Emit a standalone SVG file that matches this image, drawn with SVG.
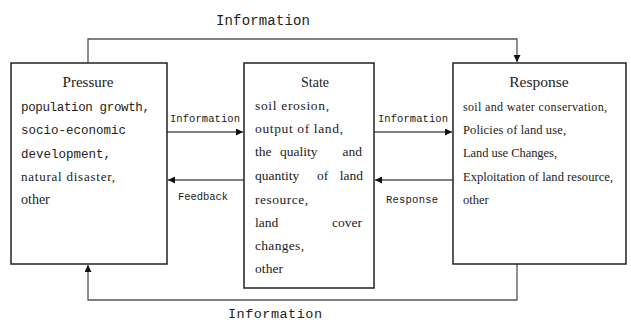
<svg xmlns="http://www.w3.org/2000/svg" width="631" height="323" viewBox="0 0 631 323">
<defs>
<marker id="ah" viewBox="0 0 10 10" refX="10" refY="5" markerWidth="7" markerHeight="7" orient="auto" markerUnits="userSpaceOnUse">
<path d="M0,0 L10,5 L0,10 z" fill="#111"/>
</marker>
<style>
.box{fill:#fff;stroke:#222;stroke-width:1.5}
.ln{fill:none;stroke:#555;stroke-width:1.3}
.mono{font-family:"Liberation Mono",monospace;fill:#222}
.ser{font-family:"Liberation Serif",serif;fill:#222}
</style>
</defs>
<rect width="631" height="323" fill="#fff"/>
<g id="connectors">
<path class="ln" d="M88,63 V39 H517 V62" marker-end="url(#ah)"/>
<path class="ln" d="M517,264 V300 H88 V265" marker-end="url(#ah)"/>
<line class="ln" x1="167" y1="132" x2="243" y2="132" marker-end="url(#ah)"/>
<line class="ln" x1="244" y1="180" x2="168" y2="180" marker-end="url(#ah)"/>
<line class="ln" x1="374" y1="132" x2="452" y2="132" marker-end="url(#ah)"/>
<line class="ln" x1="453" y1="180" x2="375" y2="180" marker-end="url(#ah)"/>
<text class="mono" x="216" y="25" font-size="14" textLength="94">Information</text>
<text class="mono" x="228" y="318" font-size="13.5" textLength="94">Information</text>
<text class="mono" x="170" y="122" font-size="10.5" textLength="70">Information</text>
<text class="mono" x="178" y="200" font-size="10.5" textLength="50">Feedback</text>
<text class="mono" x="378" y="122" font-size="10.5" textLength="70">Information</text>
<text class="mono" x="386" y="203" font-size="10.5" textLength="52">Response</text>
</g>
<g id="pressure">
<rect class="box" x="11" y="63" width="156" height="201"/>
<text class="ser" x="88" y="87" font-size="15" text-anchor="middle">Pressure</text>
<text class="mono" x="21" y="111" font-size="12.5" textLength="129">population growth,</text>
<text class="mono" x="21" y="134" font-size="12.5" textLength="105">socio-economic</text>
<text class="mono" x="21" y="158" font-size="12.5" textLength="90">development,</text>
<text class="ser" x="21" y="181" font-size="13" textLength="94">natural disaster,</text>
<text class="ser" x="21" y="204" font-size="14">other</text>
</g>
<g id="state">
<rect class="box" x="244" y="63" width="130" height="225"/>
<text class="ser" x="315" y="87" font-size="14" text-anchor="middle">State</text>
<text class="ser" x="255" y="110" font-size="13.5" textLength="74">soil erosion,</text>
<text class="ser" x="255" y="133" font-size="13.5" textLength="88">output of land,</text>
<text class="ser" font-size="13.5" y="156"><tspan x="255">the</tspan><tspan x="280">quality</tspan><tspan x="362" text-anchor="end">and</tspan></text>
<text class="ser" font-size="13.5" y="180"><tspan x="255">quantity</tspan><tspan x="317">of</tspan><tspan x="363" text-anchor="end">land</tspan></text>
<text class="ser" x="255" y="204" font-size="13.5" textLength="53">resource,</text>
<text class="ser" x="255" y="227" font-size="13.5">land</text>
<text class="ser" x="362" y="227" font-size="13.5" text-anchor="end">cover</text>
<text class="ser" x="255" y="250" font-size="13.5" textLength="49">changes,</text>
<text class="ser" x="255" y="273" font-size="13.5" textLength="28">other</text>
</g>
<g id="response">
<rect class="box" x="453" y="63" width="173" height="201"/>
<text class="ser" x="539" y="87" font-size="15.5" text-anchor="middle">Response</text>
<text class="ser" x="463" y="111" font-size="12" textLength="144">soil and water conservation,</text>
<text class="ser" x="463" y="134" font-size="12.5" textLength="103">Policies of land use,</text>
<text class="ser" x="463" y="157" font-size="12.5" textLength="94">Land use Changes,</text>
<text class="ser" x="463" y="181" font-size="12.5" textLength="150">Exploitation of land resource,</text>
<text class="ser" x="463" y="204" font-size="12.5">other</text>
</g>
</svg>
